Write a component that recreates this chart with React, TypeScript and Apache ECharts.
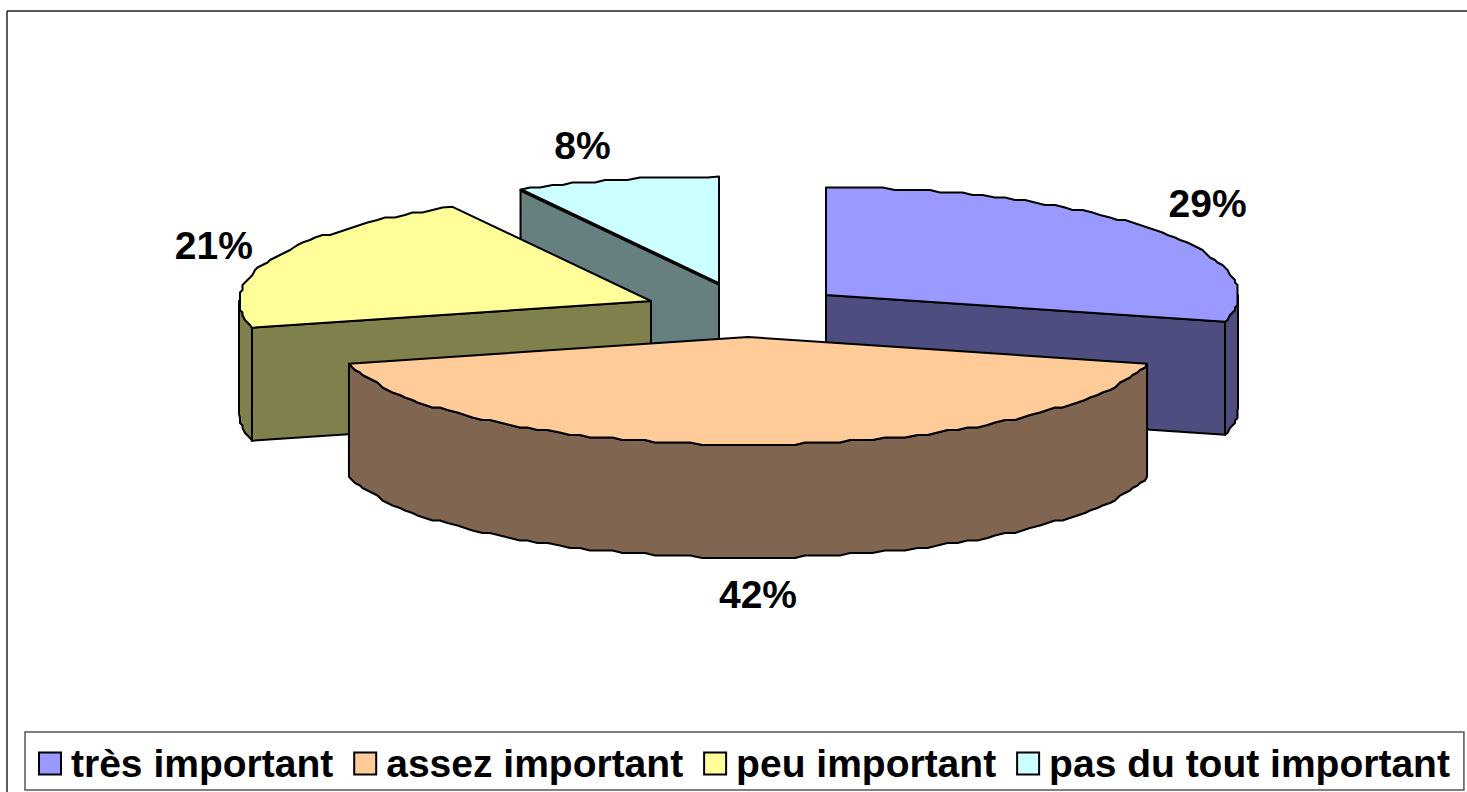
import React, { useEffect, useRef } from "react";
import * as echarts from "echarts";

const categories = ["très important", "assez important", "peu important", "pas du tout important"];
const values = [29, 42, 21, 8];
const topColors = ["#9999FF", "#FFCC99", "#FFFF99", "#CCFFFF"];
const wallColors = ["#4D4D80", "#806650", "#80804D", "#668080"];

// Layout of the exploded 3D pie
const CX = 748, CY = 310, RX = 412, RY = 107.5, DEPTH = 113;
const explodeShift = [[78, -15], [0, 27], [-97, -9], [-29, -26]];
const labelShift = [[56, -26], [10, 150], [-59, -13], [-34, -34]];
const edgeWidth = [2, 2, 2, 3.5];
const drawOrder = [3, 2, 0, 1];
const FONT = '"Liberation Sans", Arial, sans-serif';

const total = values.reduce((a, b) => a + b, 0);
const starts: number[] = [];
values.reduce((acc, v, i) => { starts[i] = (acc / total) * 360; return acc + v; }, 0);
const rad = (d: number) => (d * Math.PI) / 180;

function arc(ax: number, ay: number, t0: number, t1: number, dy = 0) {
  const pts: number[][] = [];
  const g = 2.5;
  const STEP = 1.6;
  const n = Math.max(1, Math.round((t1 - t0) / STEP));
  for (let k = 0; k <= n; k++) {
    const t = t0 + ((t1 - t0) * k) / n;
    const x = ax + RX * Math.sin(rad(t));
    const y = ay - RY * Math.cos(rad(t));
    if (k === 0 || k === n) pts.push([x, y + dy]);
    else pts.push([Math.round(x / g) * g, Math.round(y / g) * g + dy]);
  }
  return pts;
}

function sliceRenderer(i: number) {
  return (_params: any, api: any) => {
    const value = api.value(0);
    const t0 = starts[i];
    const t1 = t0 + (value / total) * 360;
    const ax = CX + explodeShift[i][0];
    const ay = CY + explodeShift[i][1];
    const stroke = { stroke: "#000", lineWidth: 2, lineJoin: "round" };
    const children: any[] = [];
    const pt = (t: number) => [ax + RX * Math.sin(rad(t)), ay - RY * Math.cos(rad(t))];
    const wall = (t: number) => {
      const p = pt(t);
      children.push({
        type: "polygon",
        shape: { points: [[ax, ay], p, [p[0], p[1] + DEPTH], [ax, ay + DEPTH]] },
        style: { fill: wallColors[i], ...stroke },
      });
    };
    if (Math.sin(rad(t0)) < -1e-6) wall(t0);
    if (Math.sin(rad(t1)) > 1e-6) wall(t1);
    const r0 = Math.max(t0, 90), r1 = Math.min(t1, 270);
    if (r1 > r0) {
      const top = arc(ax, ay, r0, r1);
      const bottom = arc(ax, ay, r0, r1, DEPTH).reverse();
      children.push({
        type: "polygon",
        shape: { points: [...top, ...bottom] },
        style: { fill: wallColors[i], ...stroke },
      });
    }
    children.push({
      type: "polygon",
      shape: { points: [[ax, ay], ...arc(ax, ay, t0, t1)] },
      style: { fill: topColors[i], ...stroke },
    });
    if (edgeWidth[i] > 2) {
      const p = pt(t0);
      children.push({
        type: "line",
        shape: { x1: ax, y1: ay, x2: p[0], y2: p[1] },
        style: { stroke: "#000", lineWidth: edgeWidth[i] },
      });
    }
    const mid = pt((t0 + t1) / 2);
    children.push({
      type: "text",
      style: {
        text: `${value}%`,
        x: mid[0] + labelShift[i][0],
        y: mid[1] + labelShift[i][1],
        fill: "#000",
        font: `bold 39px ${FONT}`,
        textAlign: "center",
        textVerticalAlign: "middle",
      },
    });
    return { type: "group", children };
  };
}

export default function App() {
  const ref = useRef<HTMLDivElement>(null);
  useEffect(() => {
    document.body.style.margin = "0";
    const chart = echarts.init(ref.current!, undefined, { renderer: "svg" });
    chart.setOption({
      animation: false,
      backgroundColor: "#fff",
      legend: {
        left: 25,
        top: 732,
        width: 1440,
        orient: "horizontal",
        selectedMode: false,
        borderColor: "#555",
        borderWidth: 1.5,
        padding: [12, 14, 7, 13],
        itemWidth: 22,
        itemHeight: 22,
        itemGap: 20,
        icon: "rect",
        textStyle: { fontFamily: FONT, fontWeight: "bold", fontSize: 39, color: "#000", padding: [0, 0, 0, 5] },
        data: categories.map((name, i) => ({
          name,
          itemStyle: { color: topColors[i], borderColor: "#000", borderWidth: 2 },
        })),
      },
      graphic: [
        { type: "line", shape: { x1: 7, y1: 11, x2: 1467, y2: 11 }, style: { stroke: "#222", lineWidth: 1.5 } },
        { type: "line", shape: { x1: 7, y1: 11, x2: 7, y2: 792 }, style: { stroke: "#222", lineWidth: 1.5 } },
      ],
      series: drawOrder.map((i) => ({
        type: "custom",
        name: categories[i],
        coordinateSystem: "none",
        silent: true,
        itemStyle: { color: topColors[i] },
        renderItem: sliceRenderer(i),
        data: [[values[i]]],
      })),
    });
    return () => chart.dispose();
  }, []);
  return <div ref={ref} style={{ position: "fixed", left: 0, top: 0, width: 1467, height: 792 }} />;
}
